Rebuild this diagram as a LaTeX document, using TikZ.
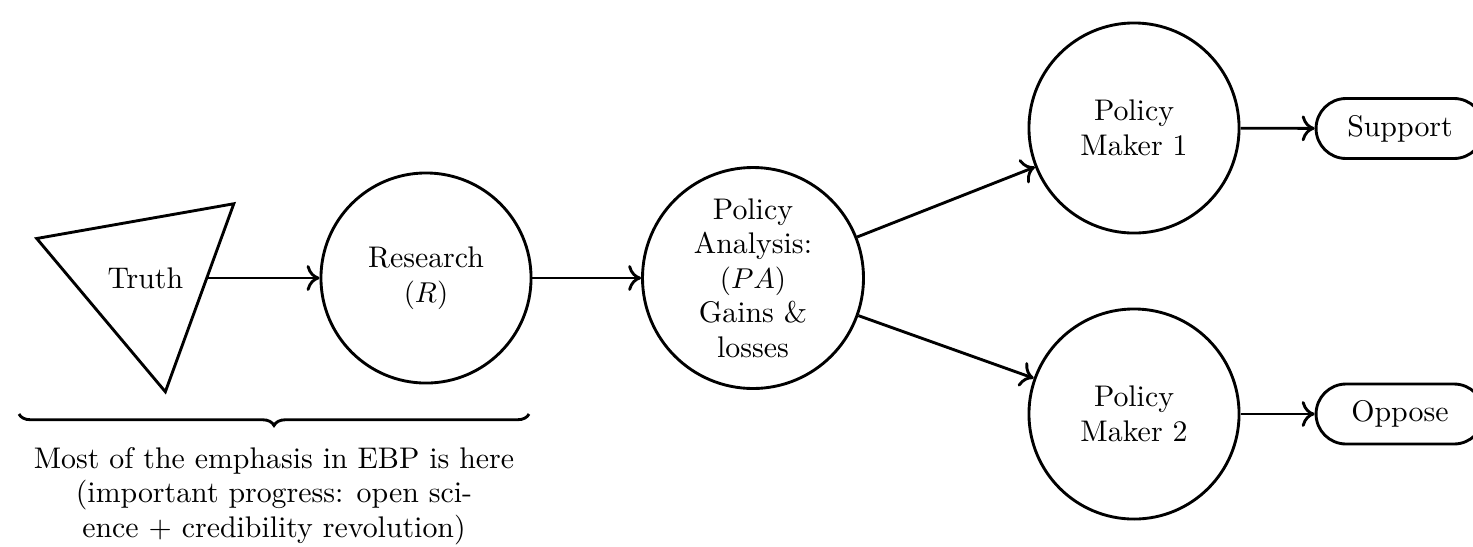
\documentclass[tikz,border=0pt]{standalone}
\usetikzlibrary{shapes.geometric,shapes.misc,decorations.pathreplacing,arrows.meta}

\begin{document}
\begin{tikzpicture}[x=0.3484pt,y=-0.3484pt,line width=1pt,
  every node/.style={font=\fontsize{10.4}{12}\selectfont},
  circ/.style={circle,draw,line width=1pt,inner sep=0pt,align=center,minimum size=73.2pt},
  tri/.style={regular polygon,regular polygon sides=3,shape border rotate=190,draw,line width=1pt,inner sep=0pt,minimum size=80.5pt},
  outcome/.style={rounded rectangle,draw,line width=1pt,minimum width=58.5pt,minimum height=20.9pt,inner sep=0pt},
  flow/.style={-{To[length=4.5pt,width=9pt]},line width=1pt}]
  \useasboundingbox (0,0) rectangle (1473,546);

  % chain from evidence to policy
  \node[tri]  (truth)    at (145.3,278) {Truth};
  \node[circ] (research) at (426,278)   {Research\\$(R)$};
  \node[circ,minimum size=77pt] (pa) at (753,278) {Policy\\Analysis:\\$(PA)$\\Gains \&\\losses};
  \node[circ] (pm1) at (1134,128) {Policy\\Maker 1};
  \node[circ] (pm2) at (1134,414) {Policy\\Maker 2};
  \node[outcome] (support) at (1400,128.5) {Support};
  \node[outcome] (oppose)  at (1400,414)   {Oppose};

  \draw[flow] (truth) -- (research);
  \draw[flow] (research) -- (pa);
  \draw[flow] (pa) -- (pm1);
  \draw[flow] (pa) -- (pm2);
  \draw[flow] (pm1) -- (support);
  \draw[flow] (pm2) -- (oppose);

  % brace under the first two stages
  \coordinate (bl) at (19,414);
  \coordinate (br) at (529,414);
  \draw[decorate,decoration={brace,mirror,amplitude=4pt}] (bl) -- (br);
  \node[anchor=north,inner sep=0pt,align=center] (note) at (274,446)
    {Most of the emphasis in EBP is here\\(important progress: open sci-\\ence + credibility revolution)};
\end{tikzpicture}
\end{document}
